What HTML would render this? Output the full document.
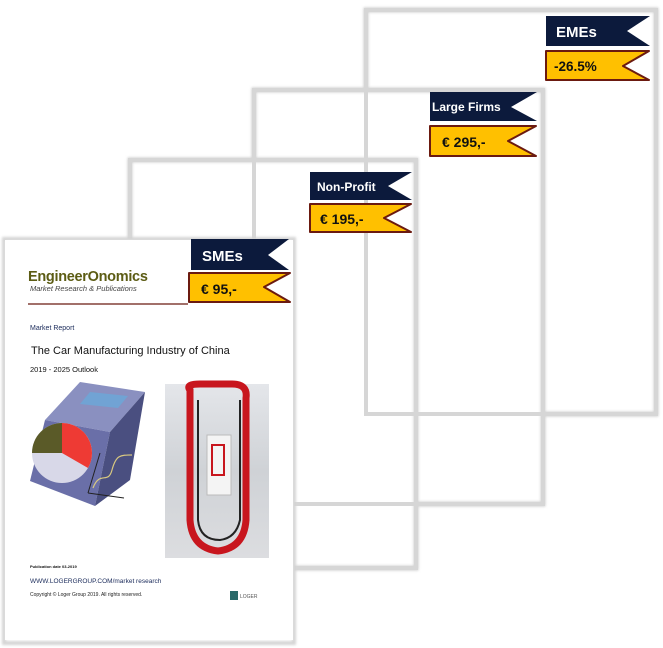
<!DOCTYPE html>
<html><head><meta charset="utf-8"><style>
html,body{margin:0;padding:0;background:#fff;width:663px;height:648px;overflow:hidden}
svg{display:block}
text{font-family:"Liberation Sans",sans-serif}
</style></head><body>
<svg width="663" height="648" viewBox="0 0 663 648" xmlns="http://www.w3.org/2000/svg">
<defs>
<filter id="sh" x="-5%" y="-5%" width="110%" height="110%"><feGaussianBlur stdDeviation="1.2"/></filter>
<linearGradient id="ph" x1="0" y1="0" x2="0" y2="1"><stop offset="0" stop-color="#e4e6ea"/><stop offset="0.5" stop-color="#cfd2d6"/><stop offset="1" stop-color="#dcdde0"/></linearGradient>
</defs>
<!-- frames -->
<g fill="#fff" stroke="#cfcfcf" stroke-width="5" filter="url(#sh)">
<rect x="366" y="10" width="290" height="404"/>
<rect x="254" y="90" width="289" height="414"/>
<rect x="130" y="160" width="286" height="408"/>
</g>
<g fill="none" stroke="#d6d6d6" stroke-width="4">
<rect x="366" y="10" width="290" height="404"/>
<rect x="254" y="90" width="289" height="414"/>
<rect x="130" y="160" width="286" height="408"/>
</g>
<!-- document -->
<rect x="4" y="239" width="290" height="404" fill="#fff" stroke="#d4d4d4" stroke-width="4" filter="url(#sh)"/>
<rect x="5" y="240" width="288" height="400" fill="#fff"/>
<text x="28" y="281" font-size="14.5" font-weight="bold" fill="#5c5c14" letter-spacing="-0.3">EngineerOnomics</text>
<text x="30" y="291" font-size="7.5" font-style="italic" fill="#444">Market Research &amp; Publications</text>
<line x1="28" y1="304" x2="188" y2="304" stroke="#6b1a10" stroke-width="1.2"/>
<text x="30" y="330" font-size="7" fill="#1a2a5a">Market Report</text>
<text x="31" y="354" font-size="11" fill="#111">The Car Manufacturing Industry of China</text>
<text x="30" y="372" font-size="7.5" fill="#111">2019 - 2025 Outlook</text>
<!-- cube -->
<polygon points="45,420 80,382 145,392 110,432" fill="#8a90c0"/>
<polygon points="90,392 128,396 118,408 80,404" fill="#6aa8d8" opacity="0.8"/>
<polygon points="30,481 45,420 110,432 95,506" fill="#6a6fa8"/>
<polygon points="95,506 110,432 145,392 130,480" fill="#4a4f80"/>
<path d="M88,493 L100,453 M88,493 L124,498" stroke="#222" stroke-width="1" fill="none"/>
<path d="M93,488 C100,470 108,485 112,470 S120,455 132,455" stroke="#d8c880" stroke-width="1.2" fill="none"/>
<circle cx="62" cy="453" r="30" fill="#d8d8e8"/>
<path d="M62,453 L32,453 A30,30 0 0 1 62,423 Z" fill="#5a5a28"/>
<path d="M62,453 L62,423 A30,30 0 0 1 88,468 Z" fill="#ee3a34"/>
<!-- photo -->
<rect x="165" y="384" width="104" height="174" fill="url(#ph)"/>
<path d="M190,390 Q185,384 200,384 L232,384 Q248,384 246,398 L246,520 Q244,548 218,551 Q192,548 190,520 Z" fill="none" stroke="#c8161e" stroke-width="7"/>
<path d="M198,400 L198,520 Q200,540 220,540 Q236,538 240,520 L240,400" fill="none" stroke="#222" stroke-width="2"/>
<rect x="207" y="435" width="24" height="60" fill="#f4f4f4" stroke="#bbb"/>
<rect x="212" y="445" width="12" height="30" fill="none" stroke="#c8161e" stroke-width="2"/>
<text x="30" y="568" font-size="4" font-weight="bold" fill="#111">Publication date 03-2019</text>
<text x="30" y="583" font-size="6.5" fill="#1a2a5a">WWW.LOGERGROUP.COM/market research</text>
<text x="30" y="596" font-size="5" fill="#222">Copyright © Loger Group 2019. All rights reserved.</text>
<rect x="230" y="591" width="8" height="9" fill="#2a6a6a"/>
<text x="240" y="598" font-size="5" fill="#555">LOGER</text>
<!-- tags -->
<g font-weight="bold">
<polygon points="546,16 650,16 627,31 650,46 546,46" fill="#0c1a3c"/>
<text x="556" y="37" font-size="15" fill="#fff">EMEs</text>
<polygon points="546,51 649,51 623,66 649,80 546,80" fill="#ffc000" stroke="#6b1a10" stroke-width="2" stroke-linejoin="round"/>
<text x="554" y="71" font-size="13.5" fill="#111">-26.5%</text>

<polygon points="430,92 537,92 511,107 537,121 430,121" fill="#0c1a3c"/>
<text x="432" y="111" font-size="12" fill="#fff">Large Firms</text>
<polygon points="430,126 536,126 508,141 536,156 430,156" fill="#ffc000" stroke="#6b1a10" stroke-width="2" stroke-linejoin="round"/>
<text x="442" y="147" font-size="14" fill="#111">€ 295,-</text>

<polygon points="310,172 412,172 388,186 412,200 310,200" fill="#0c1a3c"/>
<text x="317" y="191" font-size="12" fill="#fff">Non-Profit</text>
<polygon points="310,204 411,204 384,218 411,232 310,232" fill="#ffc000" stroke="#6b1a10" stroke-width="2" stroke-linejoin="round"/>
<text x="320" y="224" font-size="14" fill="#111">€ 195,-</text>

<polygon points="191,239 289,239 268,255 289,270 191,270" fill="#0c1a3c"/>
<text x="202" y="261" font-size="15" fill="#fff">SMEs</text>
<polygon points="189,273 290,273 264,287 290,302 189,302" fill="#ffc000" stroke="#6b1a10" stroke-width="2" stroke-linejoin="round"/>
<text x="201" y="294" font-size="14" fill="#111">€ 95,-</text>
</g>
</svg>
</body></html>
